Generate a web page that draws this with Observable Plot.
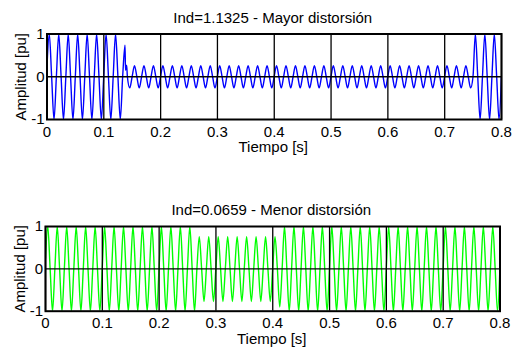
<!DOCTYPE html>
<html>
<head>
<meta charset="utf-8">
<script src="https://cdn.jsdelivr.net/npm/d3@7"></script>
<script src="https://cdn.jsdelivr.net/npm/@observablehq/plot@0.6"></script>
<style>
  html, body { margin: 0; padding: 0; background: #ffffff; }
  #chart { width: 517px; height: 348px; }
  #chart svg { display: block; }
</style>
</head>
<body>
<div id="chart"></div>
<script>
// ---- Data ----
const xTicks = [0, 0.1, 0.2, 0.3, 0.4, 0.5, 0.6, 0.7, 0.8];
const xTickLabels = ["0", "0.1", "0.2", "0.3", "0.4", "0.5", "0.6", "0.7", "0.8"];
const yTicks = [-1, 0, 1];
const yTickLabels = ["-1", "0", "1"];

const titles = ["Ind=1.1325 - Mayor distorsión", "Ind=0.0659 - Menor distorsión"];
const xLabel = "Tiempo [s]";
const yLabel = "Amplitud [pu]";

// 60 Hz waveform: half-cycle spacing and time of first crest
const halfCycle = 1 / 120;
const firstCrest = 0.004;
const startValue = 0.25;

// Crest / trough value of each half-cycle (k = 0..95), upper chart
const topPeaks = [
  1, -1, 1, -1, 1, -1, 1, -1, 1, -1, 1, -1, 1, -1, 1, -1,
  0.74, -0.26, 0.26, -0.26,
  0.26, -0.26, 0.26, -0.26, 0.26, -0.26, 0.26, -0.26, 0.26, -0.26,
  0.26, -0.26, 0.26, -0.26, 0.26, -0.26, 0.26, -0.26, 0.26, -0.26,
  0.26, -0.26, 0.26, -0.26, 0.26, -0.26, 0.26, -0.26, 0.26, -0.26,
  0.26, -0.26, 0.26, -0.26, 0.26, -0.26, 0.26, -0.26, 0.26, -0.26,
  0.26, -0.26, 0.26, -0.26, 0.26, -0.26, 0.26, -0.26, 0.26, -0.26,
  0.26, -0.26, 0.26, -0.26, 0.26, -0.26, 0.26, -0.26, 0.26, -0.26,
  0.26, -0.26, 0.26, -0.26, 0.26, -0.26, 0.26, -0.26, 0.26, -0.26,
  1, -1, 1, -1, 1, -1
];
// switching transient right after the crest at ~0.136 s (upper chart)
const topTransientTimes = [0.1382, 0.1402];
const topTransientValues = [0.15, 0.27];

// Crest / trough value of each half-cycle (k = 0..95), lower chart
const bottomPeaks = [
  1, -1, 1, -1, 1, -1, 1, -1, 1, -1, 1, -1, 1, -1, 1, -1,
  1, -1, 1, -1, 1, -1, 1, -1, 1, -1, 1, -1, 1, -1, 1, -1,
  0.76, -0.77, 0.76, -0.77, 0.76, -0.77, 0.76, -0.77, 0.76, -0.77,
  0.76, -0.77, 0.76, -0.77, 0.76, -0.77, 0.76, -0.9,
  1, -1, 1, -1, 1, -1, 1, -1, 1, -1, 1, -1, 1, -1, 1, -1,
  1, -1, 1, -1, 1, -1, 1, -1, 1, -1, 1, -1, 1, -1, 1, -1,
  1, -1, 1, -1, 1, -1, 1, -1, 1, -1, 1, -1, 1, -1
];

// ---- Build line tables (crests + zero crossings) ----
function buildWave(peaks, transientTimes = [], transientValues = []) {
  const pts = [{t: 0, v: startValue}];
  peaks.forEach((p, k) => {
    pts.push({t: firstCrest + k * halfCycle, v: p});
    pts.push({t: firstCrest + (k + 0.5) * halfCycle, v: 0});
  });
  let out = pts;
  if (transientTimes.length) {
    const lo = d3.min(transientTimes) - 0.0006, hi = d3.max(transientTimes) + 0.0008;
    out = pts.filter(d => d.t < lo || d.t > hi);
    transientTimes.forEach((t, i) => out.push({t, v: transientValues[i]}));
    out.sort((a, b) => a.t - b.t);
  }
  return out;
}
const topWave = buildWave(topPeaks, topTransientTimes, topTransientValues);
const bottomWave = buildWave(bottomPeaks);

const font = "'Liberation Sans', Arial, Helvetica, sans-serif";

function panel(wave, color, title, m, ylabDx) {
  return Plot.plot({
    width: 517,
    height: 174,
    marginLeft: m.left,
    marginRight: m.right,
    marginTop: m.top,
    marginBottom: m.bottom,
    style: {fontFamily: font, fontSize: "15px", color: "black", background: "white", overflow: "visible"},
    x: {domain: [0, 0.8]},
    y: {domain: [-1, 1]},
    marks: [
      Plot.line(wave, {x: "t", y: "v", stroke: color, strokeWidth: 1.4, curve: "monotone-x", clip: true}),
      Plot.ruleX(xTicks, {stroke: "black", strokeWidth: 1.3}),
      Plot.ruleY([0], {stroke: "black", strokeWidth: 1.3}),
      Plot.frame({stroke: "black", strokeWidth: 2}),
      Plot.axisX(xTicks, {tickFormat: d => xTickLabels[xTicks.indexOf(d)], tickSize: 0, tickPadding: 6.5, label: null, fontSize: 15}),
      Plot.axisY(yTicks, {tickFormat: d => yTickLabels[yTicks.indexOf(d)], tickSize: 0, tickPadding: 2.3, label: null, fontSize: 15}),
      Plot.text([title], {frameAnchor: "top", lineAnchor: "bottom", dy: -11.5, dx: -1.5, fontSize: 15}),
      Plot.text([xLabel], {frameAnchor: "bottom", lineAnchor: "bottom", dy: 32.5, dx: -1, fontSize: 15}),
      Plot.text([yLabel], {frameAnchor: "left", textAnchor: "middle", lineAnchor: "bottom", rotate: -90, dx: ylabDx, fontSize: 15})
    ]
  });
}

const chart = document.getElementById("chart");
chart.append(panel(topWave, "#0000ff", titles[0], {left: 46.5, right: 16, top: 33.5, bottom: 55}, -21));
chart.append(panel(bottomWave, "#00ff00", titles[1], {left: 45, right: 17.5, top: 52, bottom: 37.3}, -21));
</script>
</body>
</html>
